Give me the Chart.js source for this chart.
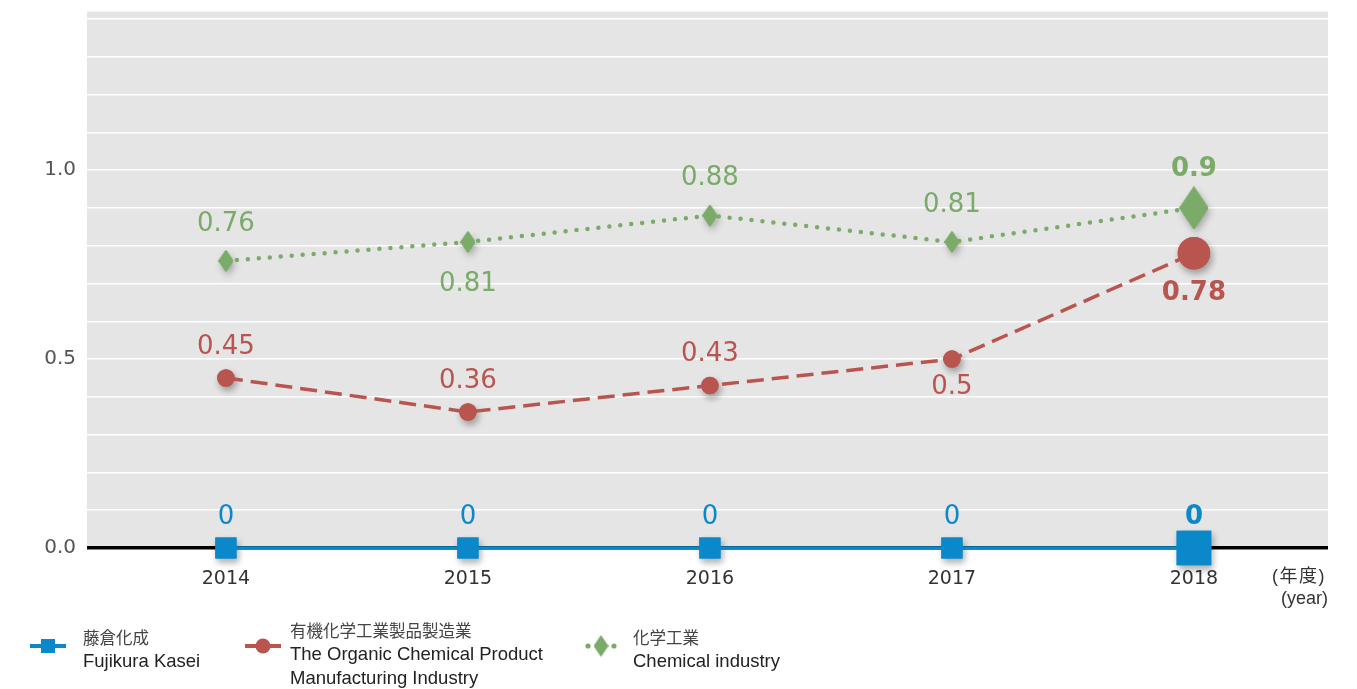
<!DOCTYPE html>
<html>
<head>
<meta charset="utf-8">
<script src="https://cdn.jsdelivr.net/npm/chart.js@4/dist/chart.umd.min.js"></script>
<style>
  body { margin: 0; background: #fff; }
  #wrap { position: relative; width: 1357px; height: 689px; overflow: hidden; }
  #chart { position: absolute; left: 0; top: 0; }
  .unit { position: absolute; font-family: "Liberation Sans", Arial, "Noto Sans CJK JP", sans-serif; font-size: 18px; color: #333; }
  .item { position: absolute; font-family: "Liberation Sans", Arial, sans-serif; color: #222; }
  .item .jp { font-family: "Noto Sans CJK JP", sans-serif; font-size: 16.5px; color: #444; line-height: 24px; height: 24px; }
  .item .en { font-size: 18.5px; line-height: 24px; }
  .icon { position: absolute; }
</style>
</head>
<body>
<div id="wrap">
  <canvas id="chart" width="1357" height="689"></canvas>
  <div class="unit" style="left:1272px; top:561px; letter-spacing:1.5px;">(年度)</div>
  <div class="unit" style="left:1281px; top:588px;">(year)</div>
  <div id="legend"></div>
</div>
<script>
// data
const years = [2014, 2015, 2016, 2017, 2018];
const fujikura = [0, 0, 0, 0, 0];
const organic = [0.45, 0.36, 0.43, 0.5, 0.78];
const chemical = [0.76, 0.81, 0.88, 0.81, 0.9];
const yTickLabels = ['0.0', '0.5', '1.0'];

const seriesNames = [
    ['藤倉化成', 'Fujikura Kasei'],
    ['有機化学工業製品製造業', 'The Organic Chemical Product', 'Manufacturing Industry'],
    ['化学工業', 'Chemical industry']
];

const BLUE = '#0a88c9';
const RED = '#b9554f';
const GREEN = '#7aab68';
const last = years.length - 1;

function makeDiamond(w, h, color) {
    const c = document.createElement('canvas');
    c.width = w;
    c.height = h;
    const g = c.getContext('2d');
    g.fillStyle = color;
    g.beginPath();
    g.moveTo(w / 2, 0);
    g.lineTo(w, h / 2);
    g.lineTo(w / 2, h);
    g.lineTo(0, h / 2);
    g.closePath();
    g.fill();
    return c;
}
const diamondSmall = makeDiamond(15, 22, GREEN);
const diamondBig = makeDiamond(29, 43, GREEN);

function points(values) {
    return values.map((v, i) => ({ x: years[i], y: v }));
}

// gray plot background
const plotBackground = {
    id: 'plotBackground',
    beforeDraw(chart) {
        const a = chart.chartArea;
        const ctx = chart.ctx;
        ctx.save();
        ctx.fillStyle = '#e5e5e5';
        ctx.fillRect(a.left, a.top, a.right - a.left, a.bottom - a.top);
        ctx.restore();
    }
};

// soft shadow under markers
const markerShadow = {
    id: 'markerShadow',
    beforeDatasetDraw(chart, args) {
        const ctx = chart.ctx;
        ctx.save();
        ctx.shadowColor = 'rgba(0,0,0,0.28)';
        ctx.shadowBlur = 7;
        ctx.shadowOffsetX = 2;
        ctx.shadowOffsetY = 4;
        args.meta.data.forEach(p => p.draw(ctx, chart.chartArea));
        ctx.restore();
    }
};

// value labels above / below points
const valueLabels = {
    id: 'valueLabels',
    afterDatasetsDraw(chart) {
        const ctx = chart.ctx;
        chart.data.datasets.forEach((ds, di) => {
            const meta = chart.getDatasetMeta(di);
            meta.data.forEach((p, i) => {
                const below = ds.labelPlace[i] === 'below';
                const off = ds.labelOffset[i];
                ctx.save();
                ctx.fillStyle = ds.borderColor;
                ctx.font = (i === last ? 'bold ' : '') + '26px "DejaVu Sans"';
                ctx.textAlign = 'center';
                ctx.textBaseline = 'middle';
                ctx.fillText(String(ds.data[i].y), p.x, below ? p.y + off : p.y - off);
                ctx.restore();
            });
        });
    }
};

new Chart(document.getElementById('chart'), {
    type: 'line',
    data: {
        datasets: [
            {
                label: seriesNames[0][1],
                data: points(fujikura),
                borderColor: BLUE,
                backgroundColor: BLUE,
                borderWidth: 3.5,
                pointStyle: 'rect',
                pointRadius: c => c.dataIndex === last ? 22 : 12.5,
                labelPlace: ['above', 'above', 'above', 'above', 'above'],
                labelOffset: [31, 31, 31, 31, 31],
                clip: false
            },
            {
                label: seriesNames[1][1],
                data: points(organic),
                borderColor: RED,
                backgroundColor: RED,
                borderWidth: 3.5,
                borderDash: [17, 8],
                pointStyle: 'circle',
                pointRadius: c => c.dataIndex === last ? 14.5 : 7,
                labelPlace: ['above', 'above', 'above', 'below', 'below'],
                labelOffset: [31, 31, 31, 28, 40],
                clip: false
            },
            {
                label: seriesNames[2][1],
                data: points(chemical),
                borderColor: GREEN,
                backgroundColor: GREEN,
                borderWidth: 4.5,
                borderDash: [0, 11],
                borderCapStyle: 'round',
                pointStyle: c => c.dataIndex === last ? diamondBig : diamondSmall,
                pointRadius: c => c.dataIndex === last ? 20 : 10,
                labelPlace: ['above', 'below', 'above', 'above', 'above'],
                labelOffset: [37, 42, 37, 37, 39],
                clip: false
            }
        ]
    },
    options: {
        responsive: false,
        animation: false,
        events: [],
        layout: { autoPadding: false, padding: { top: 11, right: 29, left: 0, bottom: 101 } },
        plugins: { legend: { display: false }, tooltip: { enabled: false } },
        scales: {
            x: {
                type: 'linear',
                min: 2013.426,
                max: 2018.554,
                afterFit: s => { s.height = 40; },
                border: { display: false },
                grid: { display: false, drawTicks: false },
                ticks: {
                    stepSize: 1,
                    includeBounds: false,
                    autoSkip: false,
                    padding: 20,
                    color: '#333',
                    font: { family: 'DejaVu Sans', size: 19 },
                    callback: v => String(v)
                }
            },
            y: {
                min: 0,
                max: 1.42,
                afterFit: s => { s.width = 87; },
                border: { display: false },
                grid: {
                    drawTicks: false,
                    color: c => c.tick.value === 0 ? '#000' : '#ffffff',
                    lineWidth: c => c.tick.value === 0 ? 3.5 : 1.5
                },
                ticks: {
                    stepSize: 0.1,
                    includeBounds: false,
                    autoSkip: false,
                    maxTicksLimit: 100,
                    padding: 11,
                    color: '#555',
                    font: { family: 'DejaVu Sans', size: 20, lineHeight: 0.05 },
                    callback: v => {
                        const k = Math.round(v * 2);
                        if (Math.abs(v * 2 - k) > 1e-6) return '';
                        return yTickLabels[k] || '';
                    }
                }
            }
        }
    },
    plugins: [plotBackground, markerShadow, valueLabels]
});

// legend
function buildLegend() {
    const legend = document.getElementById('legend');
    const items = [
        { left: 28, text: 83, top: 625, names: seriesNames[0], icon: 'square' },
        { left: 243, text: 290, top: 618, names: seriesNames[1], icon: 'circle' },
        { left: 583, text: 633, top: 625, names: seriesNames[2], icon: 'diamond' }
    ];
    items.forEach(it => {
        const box = document.createElement('div');
        box.className = 'item';
        box.style.left = it.text + 'px';
        box.style.top = it.top + 'px';
        it.names.forEach((n, i) => {
            const d = document.createElement('div');
            d.className = i === 0 ? 'jp' : 'en';
            d.textContent = n;
            box.appendChild(d);
        });
        legend.appendChild(box);

        const ic = document.createElement('canvas');
        ic.className = 'icon';
        ic.width = 40;
        ic.height = 26;
        ic.style.left = it.left + 'px';
        ic.style.top = '633px';
        const g = ic.getContext('2d');
        if (it.icon === 'square') {
            g.fillStyle = BLUE;
            g.fillRect(2, 11, 36, 4);
            g.fillRect(13, 6, 14, 14);
        } else if (it.icon === 'circle') {
            g.fillStyle = RED;
            g.fillRect(2, 11, 36, 4);
            g.beginPath();
            g.arc(20, 13, 7.5, 0, Math.PI * 2);
            g.fill();
        } else {
            g.fillStyle = GREEN;
            g.beginPath();
            g.arc(5, 13, 2.6, 0, Math.PI * 2);
            g.arc(31, 13, 2.6, 0, Math.PI * 2);
            g.fill();
            g.drawImage(diamondSmall, 10.5, 2);
        }
        legend.appendChild(ic);
    });
}
buildLegend();
</script>
</body>
</html>
